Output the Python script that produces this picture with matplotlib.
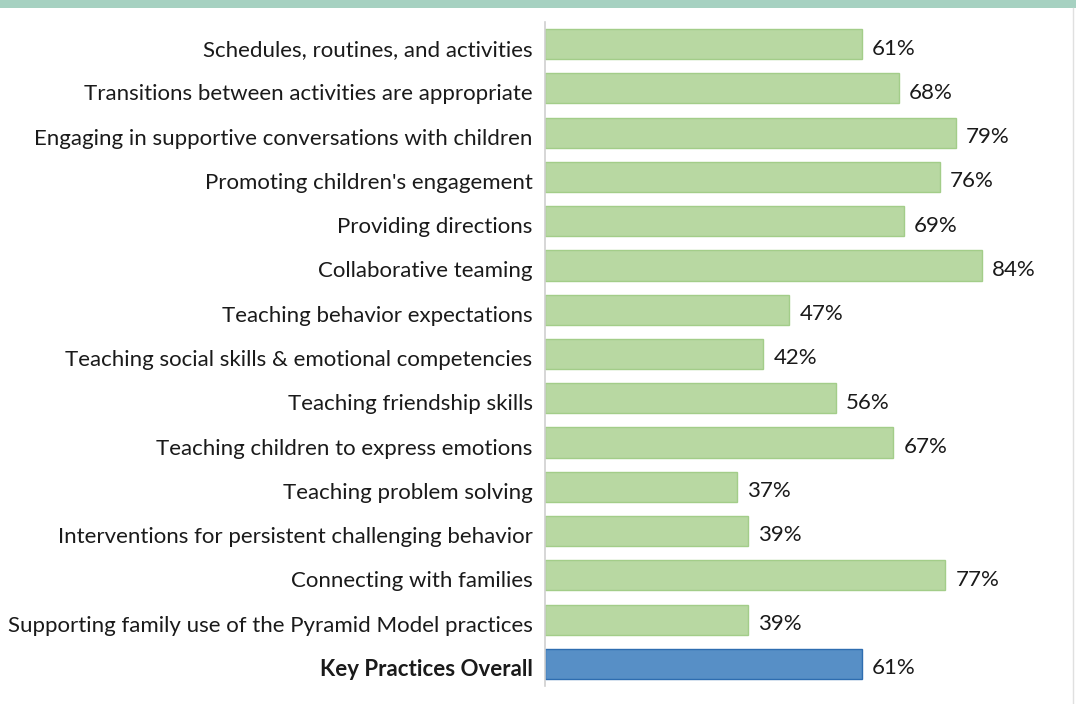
import matplotlib
matplotlib.use("Agg")
import matplotlib.pyplot as plt
import matplotlib.transforms as mtransforms
from matplotlib.lines import Line2D
from matplotlib.patches import Rectangle

categories = [
    "Schedules, routines, and activities",
    "Transitions between activities are appropriate",
    "Engaging in supportive conversations with children",
    "Promoting children's engagement",
    "Providing directions",
    "Collaborative teaming",
    "Teaching behavior expectations",
    "Teaching social skills & emotional competencies",
    "Teaching friendship skills",
    "Teaching children to express emotions",
    "Teaching problem solving",
    "Interventions for persistent challenging behavior",
    "Connecting with families",
    "Supporting family use of the Pyramid Model practices",
    "Key Practices Overall",
]
values = [61, 68, 79, 76, 69, 84, 47, 42, 56, 67, 37, 39, 77, 39, 61]

plt.rcParams['font.family'] = ['Lato', 'DejaVu Sans']

fig = plt.figure(figsize=(10.76, 7.04), dpi=100)
ax = fig.add_axes([545/1076, 1-686/704, 520/1076, 664/704])

n = len(categories)
ypos = list(range(n))
colors = ['#B8D8A2'] * (n - 1) + ['#578FC6']
edges = ['#A3CD89'] * (n - 1) + ['#2E6DB0']
ax.barh(ypos, values, height=0.68, color=colors, edgecolor=edges, linewidth=1.0)
ax.set_xlim(0, 100)
ax.set_ylim(n - 0.5, -0.5)
ax.set_yticks(ypos)
ax.set_yticklabels(categories, fontsize=16, color='#1a1a1a')
ax.get_yticklabels()[-1].set_fontweight('bold')
ax.tick_params(axis='y', length=0, pad=9)
ax.set_xticks([])
shift = mtransforms.ScaledTranslation(0, -4/100, fig.dpi_scale_trans)
for lab in ax.get_yticklabels():
    lab.set_transform(lab.get_transform() + shift)
for s in ['top', 'right', 'bottom']:
    ax.spines[s].set_visible(False)
ax.spines['left'].set_color('#D0D0D0')
ax.spines['left'].set_linewidth(1.2)

for y, v in zip(ypos, values):
    ax.text(v + 1.9, y + 0.1, f"{v}%", va='center', ha='left', fontsize=16, color='#1a1a1a')

# top band and right border
fig.patches.append(Rectangle((0, 1-8/704), 1, 8/704, transform=fig.transFigure,
                             facecolor='#A6D1C1', edgecolor='none'))
fig.lines.append(Line2D([1073/1076, 1073/1076], [0, 1-8/704], transform=fig.transFigure,
                        color='#E0E0E0', linewidth=1))

fig.savefig("out.png", dpi=100)
